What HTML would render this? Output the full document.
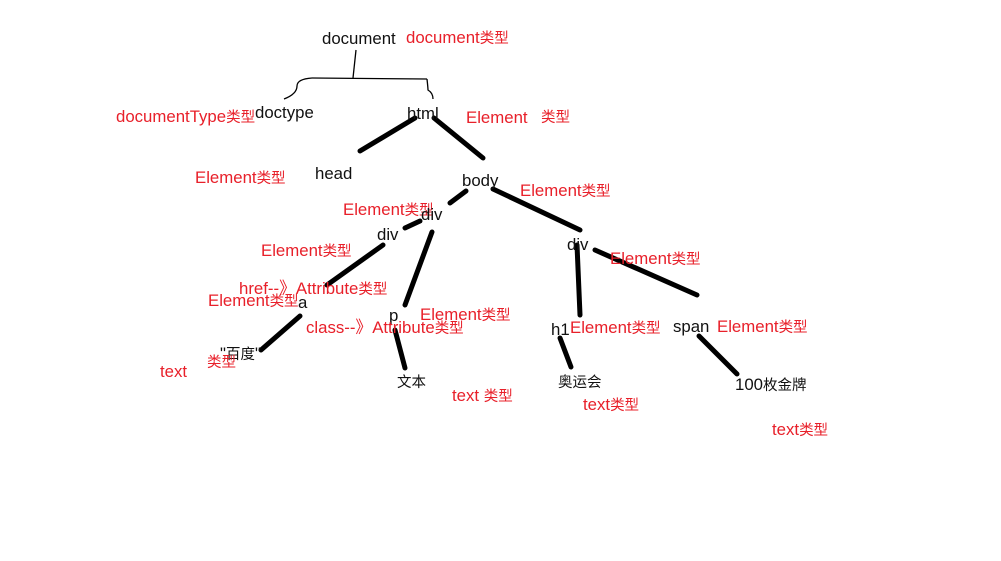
<!DOCTYPE html>
<html><head><meta charset="utf-8"><style>
body{margin:0;width:1001px;height:561px;background:#fff;position:relative;overflow:hidden;font-family:"Liberation Sans","Noto Sans CJK SC",sans-serif;font-size:16.8px}
div{position:absolute;line-height:16px;white-space:nowrap;color:#111}
.r{color:#e8202a}
i{font-style:normal;font-size:14.5px}
svg{position:absolute;left:0;top:0}
</style></head><body>
<svg width="1001" height="561">
<g stroke="#000" stroke-width="1.3" fill="none">
<path d="M356 50 L353 78"/>
<path d="M312 78 L427 79"/>
<path d="M312 78 Q297 79 297 86 Q297 94 284 99"/>
<path d="M427 79 Q428 88 428 90 Q433 93 433 99"/>
</g>
<g stroke="#000" stroke-width="5" stroke-linecap="round">
<line x1="415" y1="118" x2="360" y2="151"/>
<line x1="434" y1="118" x2="483" y2="158"/>
<line x1="466" y1="191" x2="450" y2="203"/>
<line x1="420" y1="221" x2="405" y2="228"/>
<line x1="383" y1="245" x2="327" y2="285"/>
<line x1="432" y1="232" x2="405" y2="305"/>
<line x1="300" y1="316" x2="261" y2="350"/>
<line x1="395" y1="330" x2="405" y2="368"/>
<line x1="493" y1="189" x2="580" y2="230"/>
<line x1="577" y1="245" x2="580" y2="315"/>
<line x1="595" y1="250" x2="697" y2="295"/>
<line x1="560" y1="338" x2="571" y2="367"/>
<line x1="699" y1="336" x2="737" y2="374"/>
</g>
</svg>
<div style="left:322px;top:31px">document</div>
<div class="r" style="left:406px;top:30px">document<i>类型</i></div>
<div class="r" style="left:116px;top:109px">documentType<i>类型</i></div>
<div style="left:255px;top:105px">doctype</div>
<div style="left:407px;top:106px">html</div>
<div class="r" style="left:466px;top:110px">Element</div>
<div class="r" style="left:541px;top:109px"><i>类型</i></div>
<div style="left:315px;top:166px">head</div>
<div class="r" style="left:195px;top:170px">Element<i>类型</i></div>
<div style="left:462px;top:173px">body</div>
<div class="r" style="left:520px;top:183px">Element<i>类型</i></div>
<div class="r" style="left:343px;top:202px">Element<i>类型</i></div>
<div style="left:421px;top:207px">div</div>
<div style="left:377px;top:227px">div</div>
<div class="r" style="left:261px;top:243px">Element<i>类型</i></div>
<div style="left:567px;top:237px">div</div>
<div class="r" style="left:610px;top:251px">Element<i>类型</i></div>
<div class="r" style="left:239px;top:281px">href--》Attribute<i>类型</i></div>
<div class="r" style="left:208px;top:293px">Element<i>类型</i></div>
<div style="left:298px;top:295px">a</div>
<div style="left:389px;top:308px">p</div>
<div class="r" style="left:420px;top:307px">Element<i>类型</i></div>
<div class="r" style="left:306px;top:320px">class--》Attribute<i>类型</i></div>
<div style="left:551px;top:322px">h1</div>
<div class="r" style="left:570px;top:320px">Element<i>类型</i></div>
<div style="left:673px;top:319px">span</div>
<div class="r" style="left:717px;top:319px">Element<i>类型</i></div>
<div style="left:220px;top:346px">"<i>百度</i>"</div>
<div class="r" style="left:207px;top:354px"><i>类型</i></div>
<div class="r" style="left:160px;top:364px">text</div>
<div style="left:397px;top:374px"><i>文本</i></div>
<div class="r" style="left:452px;top:388px">text <i>类型</i></div>
<div style="left:558px;top:374px"><i>奥运会</i></div>
<div class="r" style="left:583px;top:397px">text<i>类型</i></div>
<div style="left:735px;top:377px">100<i>枚金牌</i></div>
<div class="r" style="left:772px;top:422px">text<i>类型</i></div>
</body></html>
